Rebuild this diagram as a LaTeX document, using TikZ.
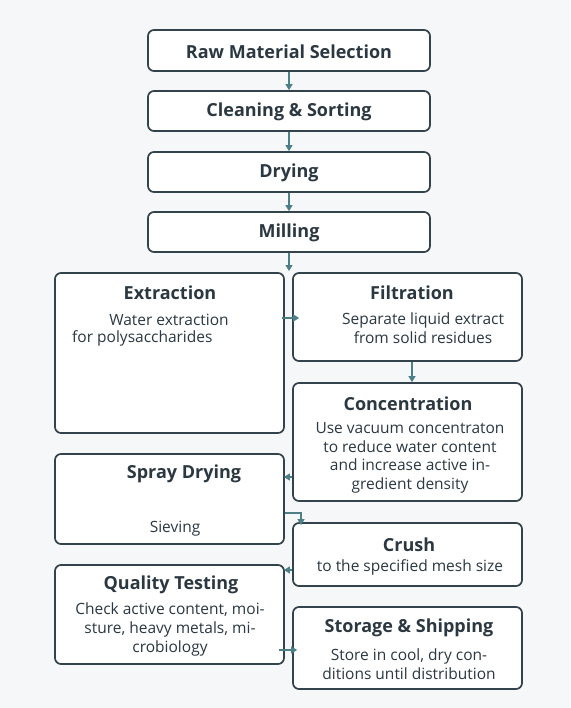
\documentclass[tikz,border=0pt]{standalone}
\usepackage{fontspec}
\setmainfont{Open Sans}
\usetikzlibrary{arrows.meta}
\definecolor{bg}{HTML}{F6F7F9}
\definecolor{edge}{HTML}{33434C}
\definecolor{txt}{HTML}{2B3841}
\definecolor{arr}{HTML}{4C7F86}
\tikzset{
  x=1pt, y=-1pt,
  box/.style={draw=edge, line width=1.7pt, rounded corners=6pt, fill=white, inner sep=0pt},
  ttl/.style={text=txt, font=\fontsize{18}{21}\selectfont\bfseries, inner sep=0pt, anchor=center, yshift=-1pt},
  bdy/.style={text=txt, font=\fontsize{15.5}{18.6}\selectfont, inner sep=0pt, anchor=center, yshift=-1pt},
  conn/.style={draw=arr, line width=1.2pt, -{Triangle[length=6pt,width=7pt]}}
}
\begin{document}
\begin{tikzpicture}
\fill[bg] (0,0) rectangle (570,708);
\useasboundingbox (0,0) rectangle (570,708);
% top chain
\node[box, minimum width=282pt, minimum height=41pt] (raw) at (289,50.5) {};
\node[box, minimum width=282pt, minimum height=40pt] (clean) at (289,111) {};
\node[box, minimum width=282pt, minimum height=40pt] (dry) at (289,172) {};
\node[box, minimum width=282pt, minimum height=40pt] (mill) at (289,232) {};
\node[ttl] (rawt) at (289,51) {Raw Material Selection};
\node[ttl] (cleant) at (289,111) {Cleaning \& Sorting};
\node[ttl] (dryt) at (289,172) {Drying};
\node[ttl] (millt) at (289,232) {Milling};
% grid boxes
\node[box, minimum width=229pt, minimum height=160pt] (ext) at (169.5,353) {};
\node[box, minimum width=229pt, minimum height=88pt] (fil) at (407.5,317) {};
\node[box, minimum width=229pt, minimum height=118pt] (con) at (407.5,442) {};
\node[box, minimum width=229pt, minimum height=90pt] (spr) at (169.5,499) {};
\node[box, minimum width=229pt, minimum height=63pt] (cru) at (407.5,554.5) {};
\node[box, minimum width=229pt, minimum height=99pt] (qua) at (169.5,614.5) {};
\node[box, minimum width=229pt, minimum height=82pt] (sto) at (407.5,648) {};
% texts
\node[ttl] (extt) at (170,292) {Extraction};
\node[bdy] (ext1) at (169,319) {Water extraction};
\node[bdy, anchor=west] (ext2) at (72,337) {for polysaccharides};
\node[ttl] (filt) at (412,292) {Filtration};
\node[bdy] (fil1) at (423,319) {Separate liquid extract};
\node[bdy] (fil2) at (423,337) {from solid residues};
\node[ttl] (cont) at (408,403) {Concentration};
\node[bdy, align=center] (con1) at (410,457) {Use vacuum concentraton\\to reduce water content\\and increase active in-\\gredient density};
\node[ttl] (sprt) at (184,473) {Spray Drying};
\node[bdy] (spr1) at (175,528) {Sieving};
\node[ttl] (crut) at (409,544) {Crush};
\node[bdy] (cru1) at (410,566) {to the specified mesh size};
\node[ttl] (quat) at (171,584) {Quality Testing};
\node[bdy, align=center] (qua1) at (170,628.5) {Check active content, moi-\\sture, heavy metals, mi-\\crobiology};
\node[ttl] (stot) at (409,627) {Storage \& Shipping};
\node[bdy, align=center] (sto1) at (409,663) {Store in cool, dry con-\\ditions until distribution};
% connectors
\coordinate (split) at (289,271);
\draw[conn] (raw.south) -- (clean.north);
\draw[conn] (clean.south) -- (dry.north);
\draw[conn] (dry.south) -- (mill.north);
\draw[conn] (mill.south) -- (split);
\draw[conn] ([xshift=-3pt]ext.east |- 0,318) -- ([xshift=7pt]fil.west |- 0,318);
\draw[conn] (fil.south -| 412,0) -- (con.north -| 412,0);
\draw[conn] (con.west |- 0,477) -- ([xshift=-1pt]spr.east |- 0,477);
\draw[conn] (spr.east |- 0,513) -- (301,513) -- ([yshift=-3pt]cru.north -| 301,0);
\draw[conn] (cru.west |- 0,570) -- ([xshift=-1pt]qua.east |- 0,570);
\draw[conn] ([xshift=-6pt]qua.east |- 0,650) -- ([xshift=5pt]sto.west |- 0,650);
\end{tikzpicture}
\end{document}
